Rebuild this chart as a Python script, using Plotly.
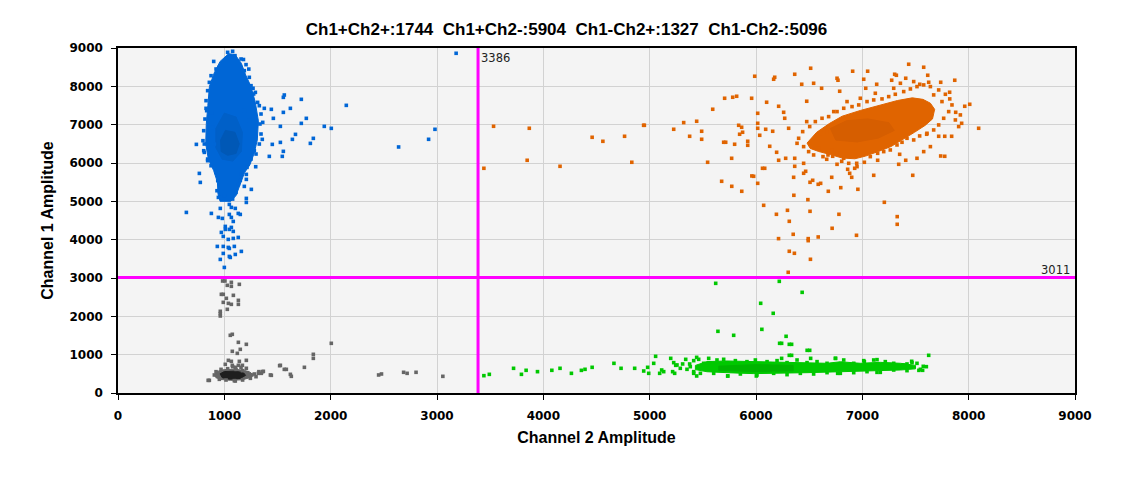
import plotly.graph_objects as go

# ─────────────────────────────────────────────
# 数据
# ─────────────────────────────────────────────

TITLE = "Ch1+Ch2+:1744  Ch1+Ch2-:5904  Ch1-Ch2+:1327  Ch1-Ch2-:5096"
THRESH_CH2 = 3386   # 竖线（Channel 2 阈值）
THRESH_CH1 = 3011   # 横线（Channel 1 阈值）
TICKS = [0, 1000, 2000, 3000, 4000, 5000, 6000, 7000, 8000, 9000]

# Ch1+Ch2- （蓝）密集区轮廓 / 核心 / 散点
blue_body_x = [1040, 1100, 1160, 1200, 1250, 1290, 1320, 1310, 1280, 1240, 1190, 1150,
               1110, 1060, 960, 940, 935, 900, 850, 825, 830, 845, 860, 905, 960]
blue_body_y = [8850, 8830, 8600, 8300, 8000, 7600, 7100, 6600, 6250, 5950, 5750, 5450,
               5150, 5000, 5000, 5200, 5500, 5800, 6100, 6500, 7000, 7500, 8000, 8350, 8650]
blue_core_x = [1000, 1110, 1170, 1160, 1080, 980, 920, 920]
blue_core_y = [7300, 7200, 6800, 6300, 6050, 6100, 6400, 6900]
blue_inner_x = [1010, 1100, 1140, 1110, 1030, 970, 965]
blue_inner_y = [6850, 6800, 6500, 6250, 6200, 6300, 6600]
blue_x = [2147, 1564, 1555, 1724, 1621, 1442, 1376, 1555, 1461, 1771, 1724, 1527, 1940,
          2006, 1669, 1640, 1837, 1809, 1527, 1451, 1357, 1555, 1423, 1545, 737, 812,
          765, 774, 643, 878, 1207, 1207, 1254, 1188, 1207, 1207, 1150, 962, 1047, 1066,
          1103, 1150, 1131, 1047, 1066, 944, 981, 1084, 1009, 1066, 1047, 1084, 1009,
          972, 990, 1131, 1084, 1037, 934, 990, 1037, 1094, 1047, 1160, 1103, 990, 1047,
          1056, 962, 1000, 2639, 2921, 2981, 3180, 1292, 1313, 1335, 1282, 1295, 828,
          812, 843, 1230, 1270, 1180, 900, 880,
          1031, 1078, 1100, 1047, 1157, 953, 922, 1204, 1188, 875, 859, 1235, 1251, 843,
          1276, 828, 1329, 834, 1345, 818, 1361, 806, 1345, 799, 1329, 806, 1298, 843,
          1251, 875, 1213, 922, 1157, 938, 1132, 931, 1110, 944, 1078, 1000, 906, 891,
          1188, 1235]
blue_y = [7504, 7774, 7713, 7661, 7426, 7400, 7426, 7321, 7165, 7165, 7034, 6956, 6956,
          6904, 6747, 6617, 6643, 6512, 6538, 6486, 6617, 6304, 6173, 6173, 6486, 6277,
          5729, 5494, 4711, 4685, 5077, 4972, 5312, 5390, 5573, 5703, 5547, 4816, 4920,
          4842, 4816, 4659, 4685, 4659, 4581, 4581, 4555, 4476, 4346, 4320, 4268, 4216,
          4268, 4190, 4085, 4059, 4033, 4007, 3824, 3824, 3798, 3824, 3772, 3694, 3615,
          3641, 3563, 3537, 3485, 3276, 6418, 6618, 6879, 8862, 7843, 7582, 7017, 6321,
          5903, 7426, 6495, 6060, 8450, 7950, 8700, 8650, 7300,
          8887, 8914, 8800, 8757, 8713, 8496, 8452, 8566, 8409, 8278, 8104, 8235, 8017,
          7887, 7800, 7626, 7495, 7365, 7278, 7147, 7060, 6843, 6756, 6582, 6495, 6321,
          6234, 6103, 6103, 5929, 5886, 5755, 5712, 5538, 5451, 5277, 5233, 5103, 5059,
          5146, 6495, 6930, 7365, 7104]

# Ch1+Ch2+ （橙）
orange_body_x = [6480, 6570, 6690, 6810, 6981, 7160, 7330, 7470, 7570, 7640, 7680, 7660,
                 7590, 7490, 7380, 7270, 7150, 7030, 6930, 6810, 6700, 6590, 6510]
orange_body_y = [6520, 6800, 7030, 7220, 7370, 7500, 7630, 7700, 7660, 7560, 7400, 7150,
                 6980, 6800, 6620, 6430, 6300, 6180, 6110, 6130, 6220, 6300, 6380]
orange_core_x = [6700, 6850, 7050, 7250, 7300, 7150, 6950, 6750]
orange_core_y = [6900, 7100, 7150, 7050, 6850, 6650, 6550, 6600]
orange_x = [4950, 5226, 5320, 5376, 5442, 5489, 5489, 5593, 5545, 5677, 5705, 5781, 5818,
            5771, 5696, 5715, 5799, 5837, 5865, 5874, 5846, 5922, 5922, 5959, 5988, 6016,
            6016, 6016, 6035, 5978, 6016, 6082, 6100, 6166, 6176, 6213, 6091, 6157, 6129,
            6194, 6213, 6279, 6260, 6270, 6307, 6364, 6364, 6364, 6430, 6448, 6467, 6477,
            6514, 6542, 6617, 6533, 6608, 6712, 6762, 6771, 6787, 6909, 7050, 7013, 7032,
            7135, 7107, 7144, 7276, 7304, 7320, 7408, 7436, 7577, 7615, 7540, 7624, 7737,
            7869, 7821, 7963, 8010, 7934, 7878, 8094, 7775, 7840, 7718, 7775, 7605, 7474,
            7408, 7342, 7351, 6928, 6862, 6881, 6900, 6762, 6721, 6806, 6947, 6354, 6448,
            6665, 5772, 5866, 5961, 6061, 6072, 6192, 6296, 6313, 6356, 6488, 6508, 6350,
            6212, 6491, 6585, 6716, 6780, 6945, 6958, 7207, 7328, 7328, 6797, 6680, 6585,
            6508, 7737, 6491, 6313, 6361, 6512, 6303, 4459, 4560, 4764, 4832, 4943, 4157,
            3532, 3868, 3848, 3441,
            6477, 6505, 6439, 6401, 6386, 6448, 6495, 6542, 6589, 6630, 6677, 6715, 6762,
            6825, 6872, 6950, 7019, 7075, 7144, 7201, 7263, 7326, 7373, 7420, 7483, 7539,
            7608, 7671, 7718, 7765, 7812, 7843, 7822, 7781, 7718, 7640, 7577, 7514, 7452,
            7389, 7310, 7248, 7185, 7107, 7044, 6966, 6903, 6825, 6762, 6683, 6621, 6558,
            7514, 7577, 7640, 6605, 6668, 6731, 6856, 6981, 7122, 7295, 7358, 7483, 7671,
            7749, 7875, 7906, 7922]
orange_y = [6984, 6880, 7054, 6697, 7089, 6828, 6619, 7402, 6019, 5523, 7689, 7715, 7741,
            6123, 6541, 6541, 6489, 6984, 6932, 6802, 6750, 6567, 6462, 7689, 8263, 7297,
            7036, 6906, 6723, 5653, 5470, 5862, 7585, 8185, 8237, 7480, 6880, 6828, 6436,
            6280, 6071, 6123, 7323, 7167, 6906, 8315, 6123, 5914, 8054, 5992, 5784, 7611,
            8472, 8080, 7950, 5549, 5470, 5627, 8211, 8159, 7872, 8394, 8394, 8185, 7950,
            8054, 5679, 6071, 8159, 8315, 8289, 8211, 8576, 8498, 8289, 8054, 8106, 8106,
            8159, 7846, 7480, 7532, 7036, 7323, 6906, 6697, 6697, 6697, 6175, 6750, 5679,
            6071, 5966, 6227, 5862, 5836, 5731, 5627, 5966, 6175, 6045, 5992, 5627, 5732,
            6097, 5392, 5262, 5662, 5862, 4896, 4662, 4766, 4479, 5158, 5044, 4740, 4140,
            4027, 4027, 4071, 4297, 4662, 4114, 5314, 4975, 4601, 4401, 5357, 5262, 5445,
            5497, 6183, 3974, 3697, 3645, 3488, 3149, 6671, 6566, 6697, 6019, 6984, 5914,
            6958, 6906, 6071, 5862,
            7080, 6950, 6819, 6645, 6514, 6427, 6297, 6210, 6384, 6166, 6210, 6340, 6253,
            6123, 5992, 5905, 6019, 6166, 6253, 6297, 6340, 6471, 6541, 6645, 6601, 6706,
            6775, 6862, 6993, 7167, 7341, 7515, 7672, 7793, 7906, 7993, 8037, 7993, 7932,
            7863, 7793, 7732, 7672, 7645, 7602, 7515, 7471, 7428, 7341, 7210, 7167, 7080,
            6123, 6297, 6427, 6775, 6819, 7341, 7602, 7689, 7819, 7950, 8080, 8124, 7776,
            7602, 7123, 6950, 7254]

# Ch1-Ch2+ （绿）
green_body_x = [5430, 5539, 5727, 6009, 6323, 6668, 6793, 6981, 7169, 7358, 7500, 7500,
                7358, 7107, 6793, 6480, 6166, 5978, 5727, 5539, 5430]
green_body_y = [720, 820, 835, 815, 800, 775, 815, 775, 800, 775, 720, 630, 600, 575,
                555, 530, 515, 505, 530, 555, 610]
green_core_x = [5650, 6000, 6350, 6350, 6000, 5650]
green_core_y = [700, 740, 720, 580, 560, 590]
green_x = [4944, 4981, 4991, 5038, 5056, 5094, 5113, 5132, 5198, 5226, 5216, 5235, 5245,
           5310, 5339, 5376, 5414, 5442, 5442, 5734, 6003, 6241, 6335, 6505, 6335, 6514,
           6241, 7624, 7602, 7567, 7514, 7464, 7420, 6768, 7138, 6749, 7138, 7019, 5621,
           6219, 6434, 6044, 6162, 5642, 6055, 5790, 6283, 6222, 6313, 6481, 6313, 4664,
           4731, 4859, 4459, 4392, 4358, 4264, 4157, 7573, 7532, 3441, 3492, 3720, 3794,
           3838, 3945, 4080,
           5414, 5461, 5508, 5555, 5633, 5696, 5806, 5915, 5994, 6104, 6198, 6292, 6386,
           6480, 6574, 6668, 6746, 6825, 6919, 7013, 7107, 7216, 7295, 7389, 7467, 7546,
           7420, 7295, 7169, 7044, 6919, 6793, 6668, 6542, 6417, 6292, 6166, 6009, 5853,
           5734, 5602, 5477, 5414, 5382, 5351, 5288, 5257]
green_y = [574, 670, 513, 774, 957, 513, 600, 557, 904, 792, 557, 513, 722, 757, 878, 757,
           513, 930, 444, 444, 444, 1296, 1270, 1113, 983, 904, 904, 983, 687, 592, 774,
           827, 757, 513, 539, 904, 870, 818, 2861, 2913, 2626, 2340, 2079, 1609, 1661,
           1505, 1479, 1296, 1270, 1113, 983, 774, 644, 644, 670, 618, 591, 513, 644, 696,
           591, 452, 487, 644, 487, 592, 557, 592,
           844, 879, 774, 904, 861, 879, 844, 818, 861, 818, 844, 792, 861, 792, 818, 774,
           904, 861, 774, 844, 861, 818, 774, 731, 792, 618, 583, 600, 539, 557, 531, 513,
           531, 496, 513, 479, 513, 470, 496, 444, 513, 513, 557, 687, 618, 644, 731]

# Ch1-Ch2- （灰）
gray_body_x = [910, 940, 1000, 1100, 1190, 1250, 1270, 1240, 1170, 1060, 960, 912]
gray_body_y = [500, 570, 610, 620, 590, 530, 460, 400, 345, 330, 355, 425]
gray_core_x = [960, 1000, 1100, 1180, 1200, 1150, 1050, 980]
gray_core_y = [500, 560, 570, 530, 460, 380, 360, 400]
gray_x = [984, 1006, 1066, 1141, 1028, 1066, 972, 990, 1085, 1019, 1132, 990, 1038, 1066,
          1132, 1028, 962, 962, 962, 1056, 1075, 1132, 1207, 1150, 1075, 1122, 2006, 1837,
          1837, 1753, 1527, 1564, 1583, 1621, 1630, 1442, 1367, 1348, 1320, 859, 1038,
          1066, 1141, 1207, 1075, 1132, 1170, 1009, 1103, 1207, 1103, 2451, 2478, 2686,
          2719, 2803, 3055, 1433, 1359, 1325, 1520, 848,
          922, 937, 969, 1031, 1110, 1172, 1219, 1257, 1245, 1172, 1094, 1016, 953, 1298,
          1282, 906, 1157, 1078]
gray_y = [2922, 2922, 2887, 2835, 2809, 2783, 2574, 2574, 2548, 2470, 2417, 2365, 2339,
          2313, 2313, 2183, 2131, 2070, 2009, 1505, 1531, 1322, 1270, 1139, 1087, 1035,
          1296, 1009, 904, 670, 722, 617, 617, 487, 435, 461, 565, 513, 513, 330, 852,
          826, 826, 852, 722, 722, 722, 748, 670, 644, 313, 470, 496, 540, 513, 540, 435,
          470, 557, 557, 713, 330,
          556, 426, 617, 635, 617, 583, 530, 470, 383, 339, 322, 339, 357, 426, 496, 470,
          670, 687]

# 各簇：主体色、密集核心色、最密集色
CLUSTERS = [
    ("Ch1-Ch2-", gray_body_x, gray_body_y, gray_core_x, gray_core_y, None, None,
     gray_x, gray_y, "#666666", "#1e1e1e", None),
    ("Ch1-Ch2+", green_body_x, green_body_y, green_core_x, green_core_y, None, None,
     green_x, green_y, "#00c800", "#00b400", None),
    ("Ch1+Ch2+", orange_body_x, orange_body_y, orange_core_x, orange_core_y, None, None,
     orange_x, orange_y, "#e06400", "#d65e00", None),
    ("Ch1+Ch2-", blue_body_x, blue_body_y, blue_core_x, blue_core_y, blue_inner_x,
     blue_inner_y, blue_x, blue_y, "#0066d6", "#0060c8", "#0058b6"),
]


def blob(xs, ys, color):
    """密集区：闭合多边形填充"""
    return go.Scatter(x=xs + xs[:1], y=ys + ys[:1], mode="lines", fill="toself",
                      fillcolor=color, line=dict(color=color, width=1),
                      hoverinfo="skip", showlegend=False)


fig = go.Figure()
for name, bx, by, cx, cy, ix, iy, px, py, c_main, c_core, c_inner in CLUSTERS:
    fig.add_trace(blob(bx, by, c_main))
    fig.add_trace(blob(cx, cy, c_core))
    if ix is not None:
        fig.add_trace(blob(ix, iy, c_inner))
    fig.add_trace(go.Scatter(
        x=px, y=py, mode="markers", name=name,
        marker=dict(symbol="square", size=3.6, color=c_main, line=dict(width=0)),
        showlegend=False
    ))

# 阈值线
fig.add_vline(x=THRESH_CH2, line_color="#ff00ff", line_width=3)
fig.add_hline(y=THRESH_CH1, line_color="#ff00ff", line_width=3)
fig.add_annotation(x=THRESH_CH2, y=9000, text=str(THRESH_CH2), showarrow=False,
                   xanchor="left", yanchor="top", xshift=1, yshift=-1,
                   font=dict(family="DejaVu Sans", size=11.5, color="#222222"))
fig.add_annotation(x=9000, y=THRESH_CH1, text=str(THRESH_CH1), showarrow=False,
                   xanchor="right", yanchor="bottom", xshift=-3, yshift=-1,
                   font=dict(family="DejaVu Sans", size=11.5, color="#222222"))

title_font = dict(family="Liberation Sans", size=16, color="black", weight="bold")
axis_common = dict(
    range=[0, 9000], tickvals=TICKS, ticktext=[str(t) for t in TICKS],
    showgrid=True, gridcolor="#d2d2d2", gridwidth=1, zeroline=False,
    showline=True, linecolor="black", linewidth=1.5, mirror=True,
    ticks="outside", ticklen=5, tickcolor="black",
    tickfont=dict(family="DejaVu Sans", size=12, color="black", weight="bold"),
)

# 页面 body 自带 8px 边距，这里的边距已扣除
fig.update_layout(
    width=1117, height=470,
    margin=dict(l=110, r=50, t=40, b=85),
    paper_bgcolor="white", plot_bgcolor="#f4f4f4",
    title=dict(text=TITLE, x=0.50, xref="container", xanchor="center",
               y=0.955, yref="container", yanchor="middle",
               font=dict(family="Liberation Sans", size=17, color="black",
                         weight="bold")),
    xaxis=dict(axis_common, ticklabelstandoff=6,
               title=dict(text="Channel 2 Amplitude", standoff=10, font=title_font)),
    yaxis=dict(axis_common, ticklabelstandoff=6,
               title=dict(text="Channel 1 Amplitude", standoff=12, font=title_font)),
)

fig.write_html("out.html")
